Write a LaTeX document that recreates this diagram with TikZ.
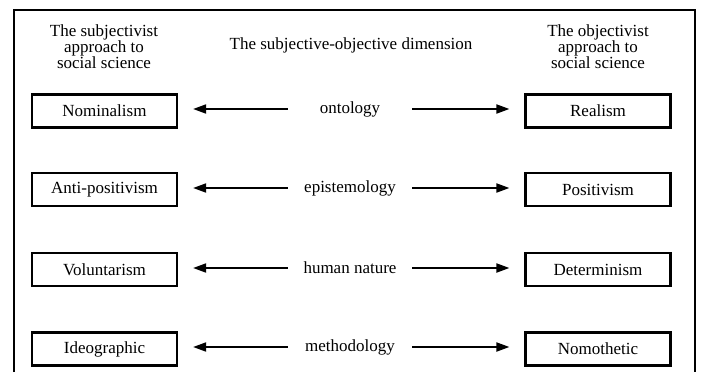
\documentclass[tikz,border=0pt]{standalone}
\usepackage{fontspec}
\setmainfont{Liberation Serif}
\usetikzlibrary{arrows.meta}

\begin{document}
\begin{tikzpicture}
    [x=1pt, y=-1pt,
    font=\fontsize{17}{16}\selectfont,
    approach/.style={draw, line width=2.2pt, minimum width=145pt, minimum height=33pt, inner sep=0pt},
    dimension/.style={minimum width=124pt, inner sep=0pt},
    heading/.style={align=center, inner sep=0pt},
    pointer/.style={line width=1.9pt, -{Triangle[length=13pt, width=9pt]}, shorten >=15pt}]
    \useasboundingbox (0,0) rectangle (701,372);
    %% outer frame
    \draw[line width=2pt] (14,372) -- (14,10) -- (695,10) -- (695,372);

    %% headings
    \node[heading] (subj) at (104,47) {The subjectivist\\approach to\\social science};
    \node[heading] (dim) at (351,45) {The subjective-objective dimension};
    \node[heading] (obj) at (598,47) {The objectivist\\approach to\\social science};

    %% rows
    \node[approach] (S1) at (104.5,111) {Nominalism};
    \node[dimension] (D1) at (350,109) {ontology};
    \node[approach] (O1) at (598,111) {Realism};

    \node[approach] (S2) at (104.5,189.5) {Anti-positivism};
    \node[dimension] (D2) at (350,188) {epistemology};
    \node[approach] (O2) at (598,189.5) {Positivism};

    \node[approach] (S3) at (104.5,269.5) {Voluntarism};
    \node[dimension] (D3) at (350,268) {human nature};
    \node[approach] (O3) at (598,269.5) {Determinism};

    \node[approach] (S4) at (104.5,349) {Ideographic};
    \node[dimension] (D4) at (350,347) {methodology};
    \node[approach] (O4) at (598,349) {Nomothetic};

    \foreach \i in {1,...,4}{
        \draw[pointer] (D\i.west) -- (S\i.east |- D\i.west);
        \draw[pointer] (D\i.east) -- (O\i.west |- D\i.east);
    }
\end{tikzpicture}
\end{document}
